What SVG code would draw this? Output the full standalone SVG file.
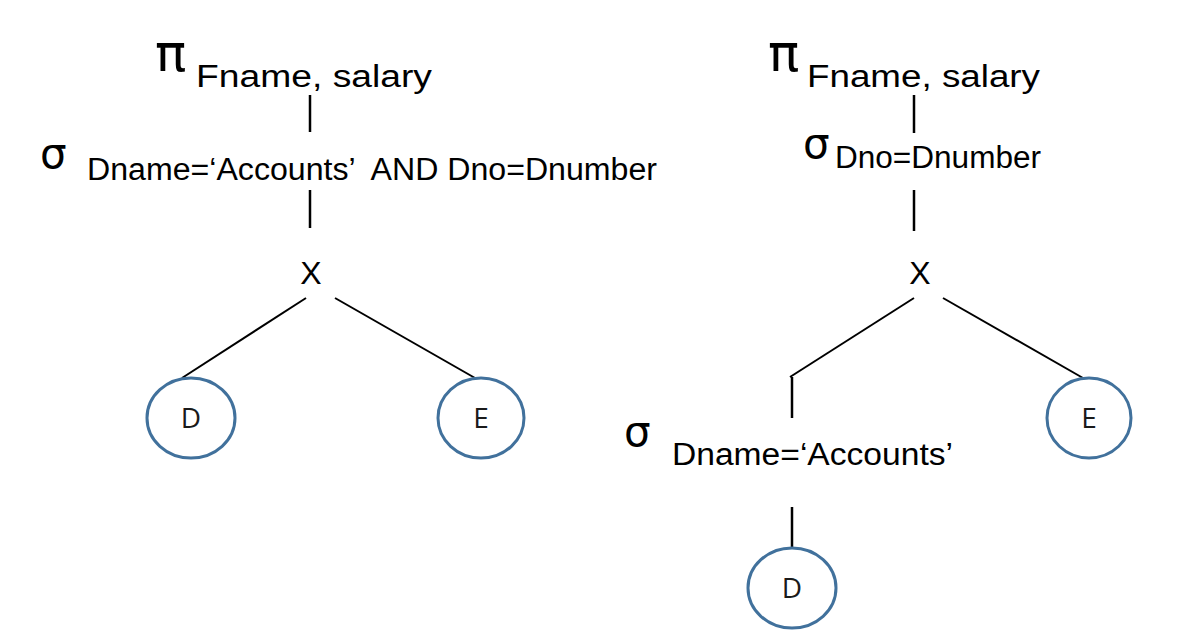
<svg xmlns="http://www.w3.org/2000/svg" width="1177" height="640" viewBox="0 0 1177 640">
  <style>
    .t { font-family: "Liberation Sans", Arial, sans-serif; fill: #000; white-space: pre; }
    .op { font-family: "DejaVu Sans", sans-serif; font-size: 52px; }
    .sig { font-family: "DejaVu Sans", sans-serif; font-size: 42px; }
    .sub { font-size: 31px; }
    .x { font-size: 32px; text-anchor: middle; }
    .lbl { font-family: "Open Sans", "Liberation Sans", sans-serif; font-size: 28px; fill: #1a1a1a; text-anchor: middle; }
    .node { fill: none; stroke: #41719C; stroke-width: 3; }
    .edge { stroke: #000; stroke-width: 2.5; fill: none; }
    .diag { stroke: #000; stroke-width: 2; fill: none; }
  </style>
  <rect width="1177" height="640" fill="#fff"/>

  <g id="connectors">
    <!-- left tree -->
    <line class="edge" x1="310" y1="95" x2="310" y2="132"/>
    <line class="edge" x1="310" y1="190" x2="310" y2="228"/>
    <line class="diag" x1="306" y1="298" x2="182" y2="378"/>
    <line class="diag" x1="335" y1="298" x2="475" y2="378"/>
    <!-- right tree -->
    <line class="edge" x1="914" y1="95" x2="914" y2="133"/>
    <line class="edge" x1="914" y1="190" x2="914" y2="231"/>
    <line class="diag" x1="914" y1="298" x2="790" y2="377"/>
    <line class="edge" x1="792" y1="377" x2="792" y2="418"/>
    <line class="diag" x1="943" y1="298" x2="1083" y2="378"/>
    <line class="edge" x1="792" y1="507" x2="792" y2="548"/>
  </g>

  <!-- Left tree -->
  <g id="left-project">
    <text class="t op" x="155" y="71">π</text>
    <text class="t sub" x="196" y="87" textLength="236" lengthAdjust="spacingAndGlyphs">Fname, salary</text>
  </g>
  <g id="left-select">
    <text class="t sig" x="40" y="168">σ</text>
    <text class="t sub" x="87" y="180" textLength="570" lengthAdjust="spacingAndGlyphs">Dname=‘Accounts’  AND Dno=Dnumber</text>
  </g>
  <g id="left-cross">
    <text class="t x" x="311" y="284">X</text>
  </g>
  <g id="left-D">
    <ellipse class="node" cx="191" cy="418" rx="44" ry="40"/>
    <text class="lbl" x="191" y="428">D</text>
  </g>
  <g id="left-E">
    <ellipse class="node" cx="481" cy="418" rx="43" ry="40"/>
    <text class="lbl" x="481" y="428">E</text>
  </g>

  <!-- Right tree -->
  <g id="right-project">
    <text class="t op" x="768" y="71">π</text>
    <text class="t sub" x="807" y="87" textLength="233" lengthAdjust="spacingAndGlyphs">Fname, salary</text>
  </g>
  <g id="right-select-join">
    <text class="t sig" x="803" y="158">σ</text>
    <text class="t sub" x="835" y="168" textLength="206" lengthAdjust="spacingAndGlyphs">Dno=Dnumber</text>
  </g>
  <g id="right-cross">
    <text class="t x" x="920" y="284">X</text>
  </g>
  <g id="right-E">
    <ellipse class="node" cx="1089" cy="418" rx="42" ry="40"/>
    <text class="lbl" x="1089" y="428">E</text>
  </g>
  <g id="right-select-accounts">
    <text class="t sig" x="624" y="446">σ</text>
    <text class="t sub" x="672" y="465" textLength="281" lengthAdjust="spacingAndGlyphs">Dname=‘Accounts’</text>
  </g>
  <g id="right-D">
    <ellipse class="node" cx="792" cy="588" rx="44" ry="40"/>
    <text class="lbl" x="792" y="598">D</text>
  </g>
</svg>
